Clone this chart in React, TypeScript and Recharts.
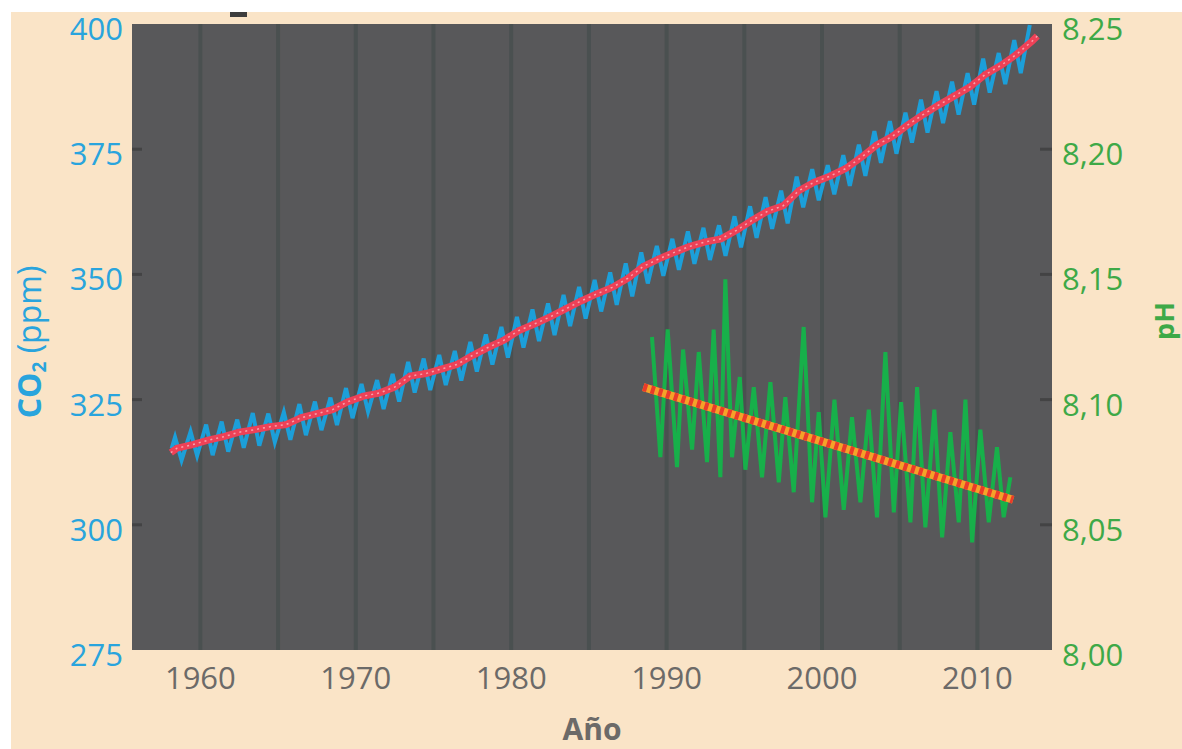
import React from 'react';
import { ComposedChart, Line, XAxis, YAxis, ReferenceLine, ReferenceArea, Label } from 'recharts';

// Mauna Loa CO2 (ppm): yearly May maximum, October minimum and annual mean
const co2Years = [
  1958, 1959, 1960, 1961, 1962, 1963, 1964, 1965, 1966, 1967,
  1968, 1969, 1970, 1971, 1972, 1973, 1974, 1975, 1976, 1977,
  1978, 1979, 1980, 1981, 1982, 1983, 1984, 1985, 1986, 1987,
  1988, 1989, 1990, 1991, 1992, 1993, 1994, 1995, 1996, 1997,
  1998, 1999, 2000, 2001, 2002, 2003, 2004, 2005, 2006, 2007,
  2008, 2009, 2010, 2011, 2012, 2013,
];
const co2May = [
  317.5, 318.6, 320.0, 320.6, 321.0, 322.3, 322.2, 322.5, 324.1, 324.6,
  325.4, 327.3, 328.1, 328.9, 330.1, 332.5, 333.2, 333.9, 334.7, 336.5,
  338.0, 339.5, 341.5, 343.0, 344.2, 345.9, 347.5, 348.9, 350.4, 352.2,
  354.4, 355.7, 357.1, 358.6, 359.3, 359.8, 361.6, 363.6, 365.4, 366.7,
  369.5, 371.0, 371.8, 373.8, 375.9, 378.6, 380.6, 382.3, 384.9, 386.6,
  388.5, 390.2, 393.1, 394.2, 396.8, 399.8,
];
const co2Oct = [
  312.9, 313.8, 313.9, 314.6, 315.4, 315.8, 316.5, 317.0, 317.9, 318.9,
  319.9, 321.3, 322.6, 323.1, 324.6, 326.4, 326.9, 327.9, 328.8, 330.6,
  332.0, 333.4, 335.4, 336.7, 337.9, 339.7, 341.2, 342.6, 343.9, 345.6,
  348.2, 349.7, 350.9, 352.1, 352.9, 353.7, 355.4, 357.3, 359.1, 360.2,
  363.4, 364.8, 366.0, 367.7, 369.7, 372.3, 374.1, 376.3, 378.3, 380.2,
  381.9, 383.9, 386.3, 388.0, 390.2,
];
const co2Mean = [
  315.3, 316.0, 316.9, 317.6, 318.5, 319.0, 319.6, 320.0, 321.4, 322.2,
  323.0, 324.6, 325.7, 326.3, 327.5, 329.7, 330.2, 331.1, 332.0, 333.8,
  335.4, 336.8, 338.8, 340.1, 341.5, 343.1, 344.7, 346.1, 347.4, 349.2,
  351.6, 353.1, 354.4, 355.6, 356.5, 357.1, 358.8, 360.8, 362.6, 363.7,
  366.7, 368.4, 369.6, 371.1, 373.3, 375.8, 377.5, 379.8, 381.9, 383.8,
  385.6, 387.4, 389.9, 391.7, 393.9, 396.5,
];
// first monthly reading (March 1958) and last trend value
const co2First = { x: 1958.15, y: 315.2 };
const co2TrendFirst = { x: 1958.1, y: 314.4 };
const co2TrendLast = { x: 2013.85, y: 397.6 };

// Surface seawater pH (Hawaii), sampled record and its linear fit
const phTimes = [
  1989.06, 1989.6, 1990.07, 1990.67, 1991.06, 1991.64, 1992.07, 1992.6, 1993.03, 1993.46,
  1993.78, 1994.21, 1994.71, 1995.07, 1995.61, 1996.14, 1996.68, 1997.22, 1997.64, 1998.18,
  1998.82, 1999.36, 1999.79, 2000.22, 2000.8, 2001.4, 2001.93, 2002.47, 2003.01, 2003.54,
  2004.08, 2004.62, 2005.09, 2005.69, 2006.12, 2006.65, 2007.23, 2007.73, 2008.26, 2008.8,
  2009.23, 2009.66, 2010.19, 2010.73, 2011.26, 2011.69, 2012.12,
];
const phValues = [
  8.125, 8.077, 8.128, 8.073, 8.12, 8.08, 8.119, 8.075, 8.128, 8.069,
  8.148, 8.077, 8.109, 8.072, 8.105, 8.069, 8.107, 8.067, 8.101, 8.063,
  8.129, 8.059, 8.095, 8.053, 8.1, 8.056, 8.093, 8.059, 8.096, 8.053,
  8.119, 8.055, 8.099, 8.051, 8.105, 8.049, 8.096, 8.045, 8.087, 8.051,
  8.1, 8.043, 8.088, 8.051, 8.081, 8.053, 8.069,
];
const phFitTimes = [1988.5, 2012.3];
const phFitValues = [8.105, 8.06];

const xTicks = [1960, 1970, 1980, 1990, 2000, 2010];
const gridYears = [1960, 1965, 1970, 1975, 1980, 1985, 1990, 1995, 2000, 2005, 2010];
const co2Ticks = [275, 300, 325, 350, 375, 400];
const phTicks = [8.0, 8.05, 8.1, 8.15, 8.2, 8.25];

const X_DOMAIN: [number, number] = [1955.6, 2014.8];
const CO2_DOMAIN: [number, number] = [275, 400];
const PH_DOMAIN: [number, number] = [8.0, 8.25];

const FONT = '"Open Sans", "Noto Sans", sans-serif';
const BEIGE = '#fae4c7';
const PLOT_BG = '#58585a';
const GRID = '#4a5050';
const BLUE_TEXT = '#29a4dd';
const BLUE_LINE = '#1c9fd9';
const RED_LINE = '#ee4157';
const GREEN_TEXT = '#3ea947';
const GREEN_LINE = '#17b04a';
const ORANGE = '#f4a229';
const RED_DASH = '#ea3a2a';
const GREY_TEXT = '#6c6a68';

// seasonal curve: May peaks and October troughs in time order
const co2Seasonal: { x: number; y: number }[] = [co2First];
co2Years.forEach((yr, i) => {
  co2Seasonal.push({ x: yr + 0.37, y: co2May[i] });
  if (co2Oct[i] !== undefined) co2Seasonal.push({ x: yr + 0.79, y: co2Oct[i] });
});
const co2Trend = [co2TrendFirst, ...co2Years.map((yr, i) => ({ x: yr + 0.5, y: co2Mean[i] })), co2TrendLast];
const phSeries = phTimes.map((t, i) => ({ x: t, y: phValues[i] }));
const phFit = phFitTimes.map((t, i) => ({ x: t, y: phFitValues[i] }));

const LeftTick = (props: any) => {
  const { x, y, payload } = props;
  const edge = x + 9;
  const inner = payload.value !== CO2_DOMAIN[0] && payload.value !== CO2_DOMAIN[1];
  return (
    <g>
      {inner && <line x1={edge} x2={edge + 10} y1={y} y2={y} stroke="#2f3030" strokeWidth={3} opacity={0.5} />}
      <text x={x} y={y + 5} dy="0.355em" textAnchor="end" fill={BLUE_TEXT} fontSize={31} fontFamily={FONT}>
        {payload.value}
      </text>
    </g>
  );
};

const RightTick = (props: any) => {
  const { x, y, payload } = props;
  const edge = x - 10;
  const v = payload.value as number;
  const inner = v !== PH_DOMAIN[0] && v !== PH_DOMAIN[1];
  return (
    <g>
      {inner && <line x1={edge - 12} x2={edge} y1={y} y2={y} stroke="#2f3030" strokeWidth={3} opacity={0.5} />}
      <text x={x} y={y + 5} dy="0.355em" textAnchor="start" fill={GREEN_TEXT} fontSize={31} fontFamily={FONT}>
        {v.toFixed(2).replace('.', ',')}
      </text>
    </g>
  );
};

const BottomTick = (props: any) => {
  const { x, y, payload } = props;
  return (
    <text x={x} y={y} dy="0.71em" textAnchor="middle" fill={GREY_TEXT} fontSize={31} fontFamily={FONT}>
      {payload.value}
    </text>
  );
};

const Co2Title = (props: any) => {
  const { viewBox } = props;
  const cx = viewBox.x + 41;
  const cy = 342;
  return (
    <text x={cx} y={cy} transform={`rotate(-90, ${cx}, ${cy})`} textAnchor="middle" fill={BLUE_TEXT} fontSize={32} fontFamily={FONT}>
      <tspan fontWeight={700}>CO</tspan>
      <tspan fontWeight={700} fontSize={19} dy={5}>2</tspan>
      <tspan dy={-5}> (ppm)</tspan>
    </text>
  );
};

const PhTitle = (props: any) => {
  const { viewBox } = props;
  const cx = viewBox.x + 122;
  const cy = 321;
  return (
    <text x={cx} y={cy} transform={`rotate(-90, ${cx}, ${cy})`} textAnchor="middle" fill={GREEN_TEXT} fontSize={27} fontWeight={700} fontFamily={FONT}>
      pH
    </text>
  );
};

const YearTitle = (props: any) => {
  const { viewBox } = props;
  return (
    <text x={viewBox.x + viewBox.width / 2} y={740} textAnchor="middle" fill={GREY_TEXT} fontSize={30} fontWeight={700} fontFamily={FONT}>
      Año
    </text>
  );
};

export default function App() {
  return (
    <div style={{ position: 'fixed', left: 0, top: 0, width: 1182, height: 749, background: '#fff', overflow: 'hidden' }}>
      <div style={{ position: 'absolute', left: 11, top: 12, right: 0, bottom: 0, background: BEIGE }} />
      <div style={{ position: 'absolute', left: 230, top: 12, width: 17, height: 5, background: '#3d3d3d' }} />
      <div style={{ position: 'absolute', left: 0, top: 0 }}>
        <ComposedChart width={1182} height={749} margin={{ top: 24, right: 0, bottom: 0, left: 0 }}>
          <XAxis
            dataKey="x"
            type="number"
            domain={X_DOMAIN}
            ticks={xTicks}
            interval={0}
            allowDataOverflow
            height={99}
            axisLine={false}
            tickLine={false}
            tickSize={0}
            tickMargin={17}
            tick={<BottomTick />}
          >
            <Label content={<YearTitle />} />
          </XAxis>
          <YAxis
            yAxisId="co2"
            orientation="left"
            domain={CO2_DOMAIN}
            ticks={co2Ticks}
            interval={0}
            allowDataOverflow
            width={132}
            axisLine={false}
            tickLine={false}
            tickSize={0}
            tickMargin={9}
            tick={<LeftTick />}
          >
            <Label content={<Co2Title />} />
          </YAxis>
          <YAxis
            yAxisId="ph"
            orientation="right"
            domain={PH_DOMAIN}
            ticks={phTicks}
            interval={0}
            allowDataOverflow
            width={130}
            axisLine={false}
            tickLine={false}
            tickSize={0}
            tickMargin={10}
            tick={<RightTick />}
          >
            <Label content={<PhTitle />} />
          </YAxis>

          <ReferenceArea yAxisId="co2" x1={X_DOMAIN[0]} x2={X_DOMAIN[1]} y1={CO2_DOMAIN[0]} y2={CO2_DOMAIN[1]} fill={PLOT_BG} fillOpacity={1} stroke="none" />
          {gridYears.map((yr) => (
            <ReferenceLine key={yr} yAxisId="co2" x={yr} stroke={GRID} strokeWidth={4} />
          ))}

          <Line yAxisId="co2" data={co2Seasonal} dataKey="y" stroke={BLUE_LINE} strokeWidth={4} dot={false} isAnimationActive={false} type="linear" />
          <Line yAxisId="co2" data={co2Trend} dataKey="y" stroke={RED_LINE} strokeWidth={7} dot={false} isAnimationActive={false} type="linear" />
          <Line yAxisId="co2" data={co2Trend} dataKey="y" stroke="#f6a3ad" strokeWidth={1.5} strokeDasharray="2 4" dot={false} isAnimationActive={false} type="linear" />

          <Line yAxisId="ph" data={phSeries} dataKey="y" stroke={GREEN_LINE} strokeWidth={4} dot={false} isAnimationActive={false} type="linear" />
          <Line yAxisId="ph" data={phFit} dataKey="y" stroke={ORANGE} strokeWidth={8} dot={false} isAnimationActive={false} type="linear" />
          <Line yAxisId="ph" data={phFit} dataKey="y" stroke={RED_DASH} strokeWidth={8} strokeDasharray="4 4" dot={false} isAnimationActive={false} type="linear" />
        </ComposedChart>
      </div>
    </div>
  );
}
